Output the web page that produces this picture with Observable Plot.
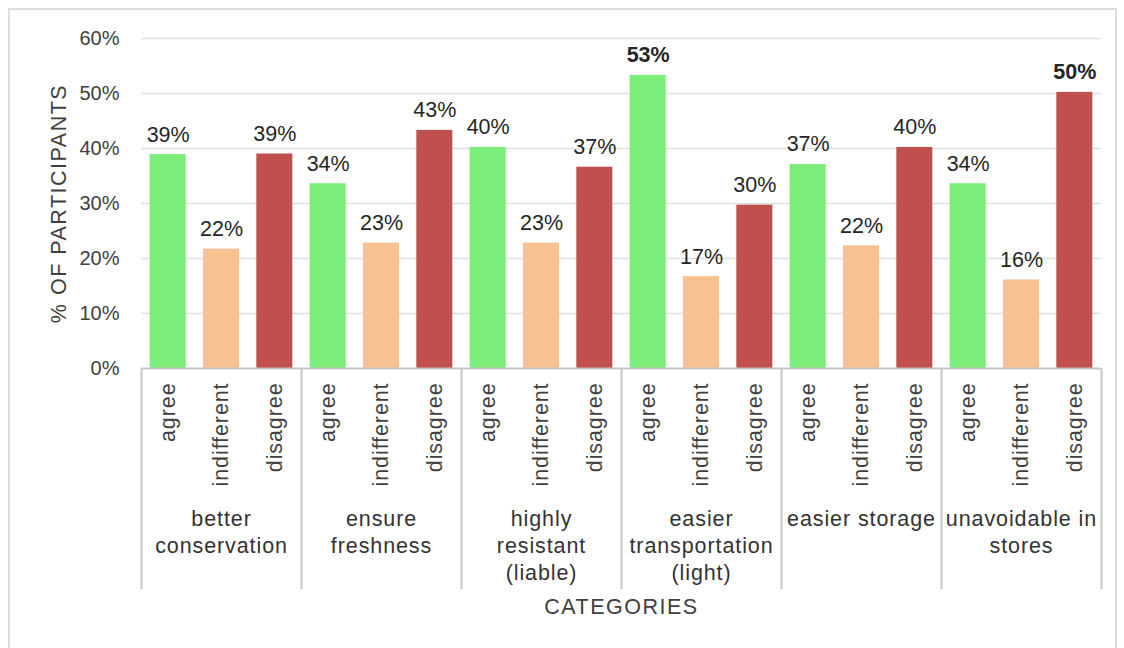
<!DOCTYPE html>
<html><head><meta charset="utf-8">
<script src="https://cdn.jsdelivr.net/npm/d3@7"></script>
<script src="https://cdn.jsdelivr.net/npm/@observablehq/plot@0.6"></script>
<style>
html,body{margin:0;padding:0;background:#fff;width:1124px;height:648px;overflow:hidden;}
#frame{position:absolute;left:8px;top:8px;width:1109px;height:680px;border:2px solid #dcdcdc;box-sizing:border-box;pointer-events:none;}
#chart{position:absolute;left:0;top:0;}
</style></head><body>
<div id="chart"></div><div id="frame"></div>
<script>
// ---- data ----
const groups = ["better conservation", "ensure freshness", "highly resistant (liable)", "easier transportation (light)", "easier storage", "unavoidable in stores"];
const groupLabels = ["better\nconservation", "ensure\nfreshness", "highly\nresistant\n(liable)", "easier\ntransportation\n(light)", "easier storage", "unavoidable in\nstores"];
const responses = ["agree", "indifferent", "disagree"];
const agree = [38.9, 33.6, 40.2, 53.3, 37.1, 33.6];
const indifferent = [21.7, 22.8, 22.8, 16.7, 22.3, 16.1];
const disagree = [39.0, 43.3, 36.6, 29.7, 40.2, 50.2];
const yTicks = [0, 10, 20, 30, 40, 50, 60];
const colors = ["#7ded7a", "#f8c190", "#c0504d"];
const yTitle = "% OF PARTICIPANTS";
const xTitle = "CATEGORIES";

const series = {agree, indifferent, disagree};
const rows = [];
groups.forEach((g, gi) => responses.forEach(r => rows.push({key: gi + "|" + r, group: g, response: r, value: series[r][gi]})));
const keys = rows.map(d => d.key);

const plotW = 1124 - 141 - 23;
const step = plotW / keys.length;
const font = '"Liberation Sans", Arial, Helvetica, sans-serif';

const chart = Plot.plot({
  width: 1124, height: 648,
  marginLeft: 141, marginRight: 23, marginTop: 38, marginBottom: 280,
  style: {fontFamily: font, fontSize: "21px", color: "#404040", background: "transparent"},
  x: {domain: keys, paddingInner: 0.325, paddingOuter: 0.1625, round: false, axis: null},
  y: {domain: [0, 60], axis: null},
  color: {domain: responses, range: colors},
  marks: [
    Plot.ruleY(yTicks.filter(t => t > 0), {stroke: "#e0e0e0", strokeWidth: 1.6}),
    Plot.barY(rows, {x: "key", y: "value", fill: "response"}),
    Plot.ruleY([0], {stroke: "#c6c6c6", strokeWidth: 2}),
    Plot.ruleX(groups, {x: (d, i) => i + "|agree", dx: -step / 2, insetTop: 330, insetBottom: -221, stroke: "#c6c6c6", strokeWidth: 2}),
    Plot.ruleX([groups.length - 1], {x: i => i + "|disagree", dx: step / 2, insetTop: 330, insetBottom: -221, stroke: "#c6c6c6", strokeWidth: 2}),
    Plot.axisY({ticks: yTicks, tickFormat: d => d + "%", tickSize: 0, tickPadding: 22, fontSize: 20, label: null}),
    Plot.axisY({ticks: [], tickSize: 0, fontSize: 21.5,
      label: yTitle, labelAnchor: "center", labelArrow: "none", labelOffset: 91}),
    Plot.axisX({tickFormat: k => k.split("|")[1], tickRotate: -90, tickSize: 0, tickPadding: 14, fontSize: 21.5,
      label: xTitle, labelAnchor: "center", labelArrow: "none", labelOffset: 245}),
    Plot.text(rows, {filter: d => d.value < 50, x: "key", y: "value", text: d => Math.round(d.value) + "%", lineAnchor: "bottom", dy: -13, fontSize: 21.5, fill: "#262626"}),
    Plot.text(rows, {filter: d => d.value >= 50, x: "key", y: "value", text: d => Math.round(d.value) + "%", lineAnchor: "bottom", dy: -13, fontSize: 21.5, fontWeight: "bold", fill: "#262626"}),
    Plot.text(groups, {x: (d, i) => i + "|indifferent", text: (d, i) => groupLabels[i], frameAnchor: "bottom", lineAnchor: "top", dy: 138, lineHeight: 1.27, fontSize: 21.5, fill: "#333"})
  ]
});
document.getElementById("chart").append(chart);
d3.select(chart).selectAll("text").each(function () {
  const t = this.textContent;
  if (t === yTitle || t === xTitle) this.style.letterSpacing = "1.5px";
  else if (!/%$/.test(t)) this.style.letterSpacing = "0.9px";
});
</script>
</body></html>
